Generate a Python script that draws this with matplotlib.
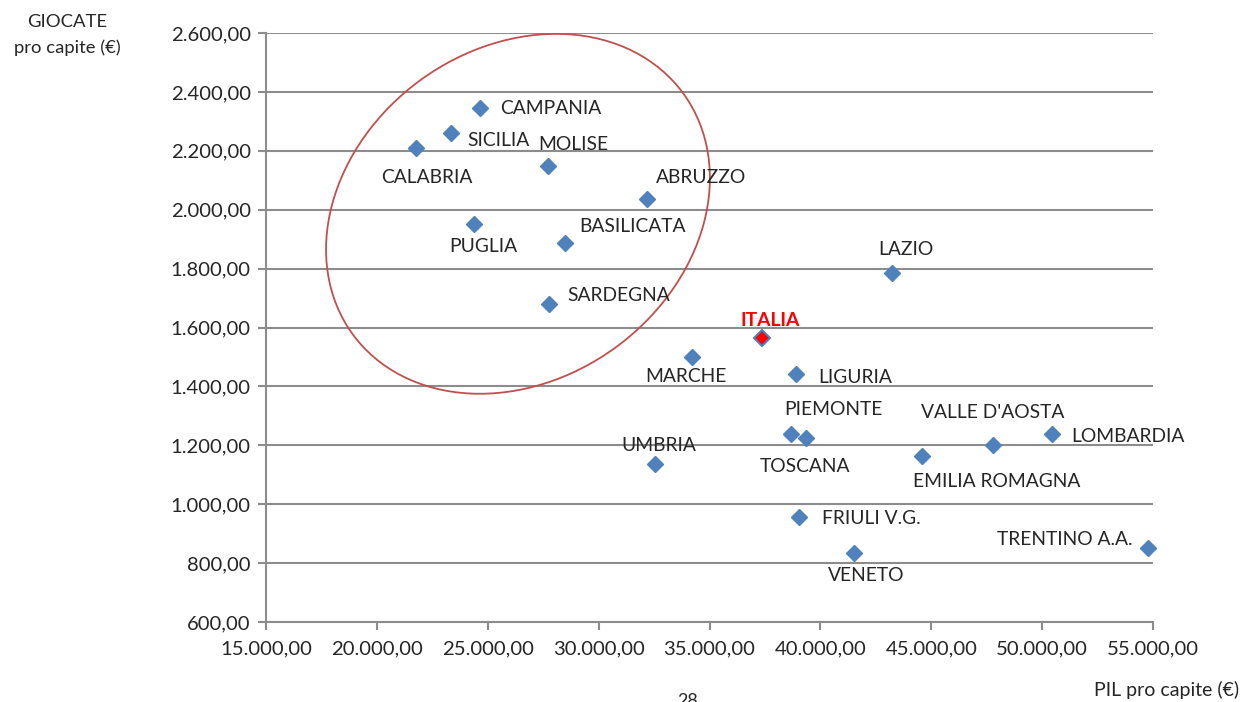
import matplotlib
matplotlib.use("Agg")
import matplotlib.pyplot as plt
from matplotlib.patches import Ellipse
from matplotlib.ticker import FuncFormatter
import matplotlib.transforms as mtransforms

plt.rcParams['font.family'] = ['Lato', 'DejaVu Sans']

regions = ["CAMPANIA", "SICILIA", "CALABRIA", "MOLISE", "ABRUZZO", "PUGLIA",
           "BASILICATA", "SARDEGNA", "LAZIO", "MARCHE", "LIGURIA", "PIEMONTE",
           "TOSCANA", "UMBRIA", "VALLE D'AOSTA", "LOMBARDIA", "EMILIA ROMAGNA",
           "FRIULI V.G.", "VENETO", "TRENTINO A.A."]
pil = [24650, 23340, 21760, 27715, 32180, 24380, 28480, 27760, 43225, 34210,
       38900, 38670, 39350, 32540, 47780, 50440, 44580, 39030, 41510, 54770]
giocate = [2345, 2260, 2210, 2149, 2036, 1952, 1887, 1680, 1785, 1500,
           1442, 1238, 1225, 1137, 1201, 1238, 1164, 957, 834, 851]
italia_pil = 37365
italia_giocate = 1564

xticks = [15000, 20000, 25000, 30000, 35000, 40000, 45000, 50000, 55000]
yticks = [600, 800, 1000, 1200, 1400, 1600, 1800, 2000, 2200, 2400, 2600]

# label offsets in pixels (dx, dy, ha, va)
label_pos = {
    "CAMPANIA": (20, 0, 'left', 'center'),
    "SICILIA": (16, -7, 'left', 'center'),
    "CALABRIA": (11, -30, 'center', 'center'),
    "MOLISE": (-10, 21, 'left', 'center'),
    "ABRUZZO": (9, 22, 'left', 'center'),
    "PUGLIA": (9, -23, 'center', 'center'),
    "BASILICATA": (14, 16, 'left', 'center'),
    "SARDEGNA": (18, 8, 'left', 'center'),
    "LAZIO": (14, 24, 'center', 'center'),
    "MARCHE": (-6, -20, 'center', 'center'),
    "LIGURIA": (22, -3, 'left', 'center'),
    "PIEMONTE": (-7, 25, 'left', 'center'),
    "TOSCANA": (-46, -29, 'left', 'center'),
    "UMBRIA": (4, 18, 'center', 'center'),
    "VALLE D'AOSTA": (-72, 33, 'left', 'center'),
    "LOMBARDIA": (19, -2, 'left', 'center'),
    "EMILIA ROMAGNA": (-9, -26, 'left', 'center'),
    "FRIULI V.G.": (23, -2, 'left', 'center'),
    "VENETO": (-26, -22, 'left', 'center'),
    "TRENTINO A.A.": (-15, 9, 'right', 'center'),
}

W, H, DPI = 1241, 702, 100
fig = plt.figure(figsize=(W / DPI, H / DPI), dpi=DPI)
ax = fig.add_axes([266 / W, 1 - 622 / H, (1153 - 266) / W, (622 - 33) / H])

gray = '#8c8c8c'
blue = '#4f81bd'
txt = '#262626'
LBL = 13.9
TCK = 14.6

ax.set_xlim(15000, 55000)
ax.set_ylim(600, 2600)
ax.set_xticks(xticks)
ax.set_yticks(yticks)
fmt = FuncFormatter(lambda v, p: f"{v:,.2f}".replace(',', 'X').replace('.', ',').replace('X', '.'))
ax.xaxis.set_major_formatter(fmt)
ax.yaxis.set_major_formatter(fmt)
ax.grid(axis='y', color=gray, linewidth=1.5)
ax.set_axisbelow(True)
for s in ['top', 'right']:
    ax.spines[s].set_visible(False)
for s in ['left', 'bottom']:
    ax.spines[s].set_color(gray)
    ax.spines[s].set_linewidth(1.5)
ax.tick_params(axis='both', colors=gray, width=1.5, length=6, labelsize=TCK,
               labelcolor=txt)
ax.tick_params(axis='x', pad=7)
ax.tick_params(axis='y', pad=5)

ax.plot(pil, giocate, linestyle='none', marker='D', markersize=8.5,
        color=blue, markeredgecolor=blue, zorder=3, clip_on=False)
ax.plot([italia_pil], [italia_giocate], linestyle='none', marker='D', markersize=8.5,
        color='#ff0000', markeredgecolor=blue, markeredgewidth=1.5, zorder=4)

for name, x, y in zip(regions, pil, giocate):
    dx, dy, ha, va = label_pos[name]
    ax.annotate(name, (x, y), xytext=(dx * 72 / DPI, dy * 72 / DPI),
                textcoords='offset points', ha=ha, va=va, fontsize=LBL,
                color=txt, zorder=5)
ax.annotate("ITALIA", (italia_pil, italia_giocate), xytext=(8 * 72 / DPI, 18 * 72 / DPI),
            textcoords='offset points', ha='center', va='center', fontsize=LBL,
            color='#ff0000', fontweight='bold', zorder=5)

# ellipse highlighting southern regions (sizes in pixels)
ell_cx, ell_cy = 26363, 1986
tr = fig.dpi_scale_trans + mtransforms.ScaledTranslation(ell_cx, ell_cy, ax.transData)
ax.add_patch(Ellipse((0, 0), 409 / DPI, 331 / DPI, angle=36, transform=tr,
                     fill=False, edgecolor='#c0504d', linewidth=1.3, zorder=2,
                     clip_on=False))

fig.text(67 / W, 1 - 22 / H, "GIOCATE", ha='center', va='center', fontsize=13.3, color=txt)
fig.text(67 / W, 1 - 48 / H, "pro capite (€)", ha='center', va='center', fontsize=13.3, color=txt)
fig.text(1239 / W, 1 - 690 / H, "PIL pro capite (€)", ha='right', va='center', fontsize=14, color=txt)
fig.text(688 / W, 1 - 693 / H, "28", ha='center', va='top', fontsize=13, color=txt)

fig.savefig("out.png", dpi=DPI, facecolor='white')
